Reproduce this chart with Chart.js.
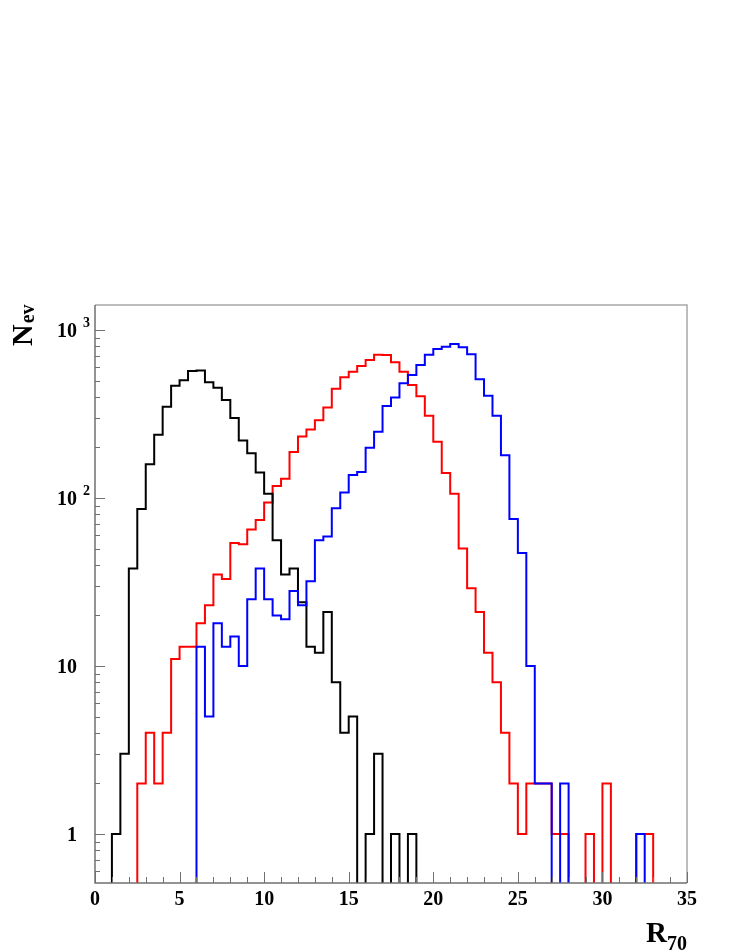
<!DOCTYPE html>
<html>
<head>
<meta charset="utf-8">
<script src="https://cdn.jsdelivr.net/npm/chart.js@4.4.1/dist/chart.umd.min.js"></script>
<style>
  html, body { margin: 0; padding: 0; background: #fff; }
  canvas { display: block; }
</style>
</head>
<body>
<canvas id="chart" width="736" height="952"></canvas>
<script>
// R70 histograms, 70 bins of 0.5 from 0 to 35
var binWidth = 0.5;

var blackCounts = [
  0, 0, 1, 3, 38, 86, 159, 238, 349, 466,
  502, 570, 575, 488, 454, 383, 299, 220, 185, 142,
  106, 56, 35, 38, 24, 13, 12, 21, 8, 4,
  5, 0, 1, 3, 0, 1, 0, 1, 0, 0,
  0, 0, 0, 0, 0, 0, 0, 0, 0, 0,
  0, 0, 0, 0, 0, 0, 0, 0, 0, 0,
  0, 0, 0, 0, 0, 0, 0, 0, 0, 0
];

var redCounts = [
  0, 0, 0, 0, 0, 2, 4, 2, 4, 11,
  13, 13, 18, 23, 35, 33, 54, 53, 65, 74,
  94, 118, 130, 188, 232, 256, 290, 346, 447, 524,
  564, 611, 662, 713, 710, 642, 564, 471, 403, 309,
  216, 141, 106, 50, 29, 21, 12, 8, 4, 2,
  1, 2, 2, 2, 1, 1, 0, 0, 1, 0,
  2, 0, 0, 0, 1, 1, 0, 0, 0, 0
];

var blueCounts = [
  0, 0, 0, 0, 0, 0, 0, 0, 0, 0,
  0, 0, 13, 5, 18, 13, 15, 10, 25, 38,
  25, 20, 19, 28, 23, 32, 56, 59, 87, 108,
  137, 143, 199, 248, 353, 397, 482, 540, 620, 713,
  771, 796, 826, 790, 718, 509, 406, 309, 180, 75,
  47, 10, 2, 2, 0, 2, 0, 0, 0, 0,
  0, 0, 0, 0, 1, 0, 0, 0, 0, 0
];

var xTicks = [0, 5, 10, 15, 20, 25, 30, 35];
var xTickLabels = ['0', '5', '10', '15', '20', '25', '30', '35'];
var yTicks = [1, 10, 100, 1000];
var yTickBase = ['1', '10', '10', '10'];
var yTickExp = ['', '', '2', '3'];

var yMin = 0.511;
var yMax = 1409;
var emptyLevel = 0.1; // below the axis, gets clipped

function toSteps(counts) {
  var points = counts.map(function(c, i) {
    return { x: i * binWidth, y: c > 0 ? c : emptyLevel };
  });
  points.push({ x: counts.length * binWidth, y: emptyLevel });
  return points;
}

function histo(data, color, order) {
  return {
    data: toSteps(data),
    borderColor: color,
    borderWidth: 2,
    stepped: true,
    pointRadius: 0,
    fill: false,
    order: order
  };
}

var serif = '"Liberation Serif", "Times New Roman", serif';

var framePlugin = {
  id: 'frame',
  afterDatasetsDraw: function(chart) {
    var ctx = chart.ctx;
    var area = chart.chartArea;
    var sx = chart.scales.x;
    var sy = chart.scales.y;

    ctx.save();

    // top and right sides of the frame
    ctx.strokeStyle = '#a8a8a8';
    ctx.lineWidth = 1.5;
    ctx.beginPath();
    ctx.moveTo(area.left, area.top);
    ctx.lineTo(area.right, area.top);
    ctx.lineTo(area.right, area.bottom);
    ctx.stroke();

    // axes
    ctx.strokeStyle = '#707070';
    ctx.beginPath();
    ctx.moveTo(area.left, area.top);
    ctx.lineTo(area.left, area.bottom);
    ctx.lineTo(area.right, area.bottom);
    ctx.stroke();

    // x ticks, pointing inward
    ctx.lineWidth = 1;
    ctx.beginPath();
    for (var v = 0; v <= 35; v++) {
      var px = Math.round(sx.getPixelForValue(v)) + 0.5;
      var len = v % 5 === 0 ? 11 : 6;
      ctx.moveTo(px, area.bottom);
      ctx.lineTo(px, area.bottom - len);
    }
    // y ticks, decades and minor
    [0.1, 1, 10, 100, 1000].forEach(function(d) {
      for (var m = 1; m <= 9; m++) {
        var val = m * d;
        if (val < yMin || val > yMax) continue;
        var py = Math.round(sy.getPixelForValue(val)) + 0.5;
        ctx.moveTo(area.left, py);
        ctx.lineTo(area.left + (m === 1 ? 10 : 5), py);
      }
    });
    ctx.stroke();

    ctx.fillStyle = '#000';

    // x tick labels
    ctx.font = 'bold 20px ' + serif;
    ctx.textAlign = 'center';
    ctx.textBaseline = 'alphabetic';
    xTicks.forEach(function(t, i) {
      ctx.fillText(xTickLabels[i], sx.getPixelForValue(t), 905);
    });

    // y tick labels with exponents
    yTicks.forEach(function(t, i) {
      var py = sy.getPixelForValue(t);
      ctx.font = 'bold 20px ' + serif;
      ctx.textAlign = 'right';
      ctx.fillText(yTickBase[i], 77, py + 7);
      if (yTickExp[i]) {
        ctx.font = 'bold 14px ' + serif;
        ctx.textAlign = 'left';
        ctx.fillText(yTickExp[i], 83, py - 3);
      }
    });

    // x title R_70
    ctx.textAlign = 'left';
    ctx.font = 'bold 29px ' + serif;
    ctx.fillText('R', 646, 942);
    ctx.font = 'bold 20px ' + serif;
    ctx.fillText('70', 667, 950);

    // y title N_ev, rotated
    ctx.translate(32, 346);
    ctx.rotate(-Math.PI / 2);
    ctx.font = 'bold 30px ' + serif;
    ctx.fillText('N', 0, 0);
    var w = ctx.measureText('N').width;
    ctx.font = 'bold 20px ' + serif;
    ctx.fillText('ev', w + 1, 2);

    ctx.restore();
  }
};

new Chart(document.getElementById('chart'), {
  type: 'line',
  data: {
    datasets: [
      histo(blackCounts, '#000000', 1),
      histo(redCounts, '#ff0000', 2),
      histo(blueCounts, '#0000ff', 0)
    ]
  },
  options: {
    responsive: false,
    animation: false,
    layout: {
      padding: { left: 95, right: 49, top: 305, bottom: 69 }
    },
    plugins: {
      legend: { display: false },
      tooltip: { enabled: false }
    },
    scales: {
      x: { type: 'linear', min: 0, max: 35, display: false },
      y: { type: 'logarithmic', min: yMin, max: yMax, display: false }
    }
  },
  plugins: [framePlugin]
});
</script>
</body>
</html>
